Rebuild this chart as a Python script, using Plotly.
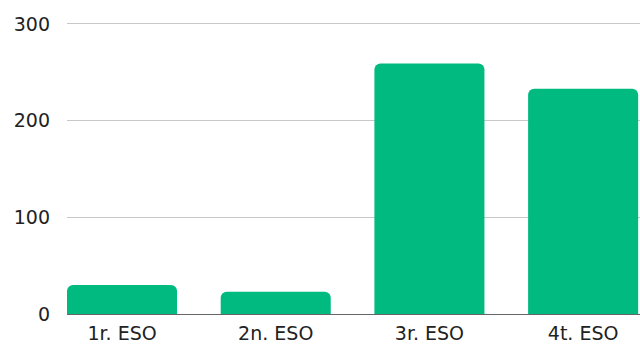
import plotly.graph_objects as go

categories = ["1r. ESO", "2n. ESO", "3r. ESO", "4t. ESO"]
values = [30, 23, 259, 233]
y_ticks = [0, 100, 200, 300]

fig = go.Figure(go.Bar(
    x=categories, y=values,
    marker=dict(color="#00BA80", line=dict(width=0)),
    width=0.716,
))
fig.update_layout(
    width=640, height=349,
    margin=dict(l=67, r=0, t=22, b=35, autoexpand=False),
    plot_bgcolor="white", paper_bgcolor="white",
    barcornerradius=6,
    showlegend=False,
    font=dict(family="DejaVu Sans, sans-serif", size=19, color="#222222"),
)
fig.update_xaxes(
    type="category", range=[-0.358, 3.37],
    showgrid=False, showline=False, ticks="",
    ticklabelstandoff=6, automargin=False,
)
fig.update_yaxes(
    range=[0, 302], tickvals=y_ticks,
    showgrid=True, gridcolor="#c8c8c8", gridwidth=1,
    zeroline=True, zerolinecolor="#666666", zerolinewidth=1,
    showline=False, ticks="", ticklabelstandoff=16, automargin=False,
)
fig.write_html(
    "out.html",
    config={"displayModeBar": False},
    post_script="document.body.style.margin='0';document.body.style.overflow='hidden';",
)
